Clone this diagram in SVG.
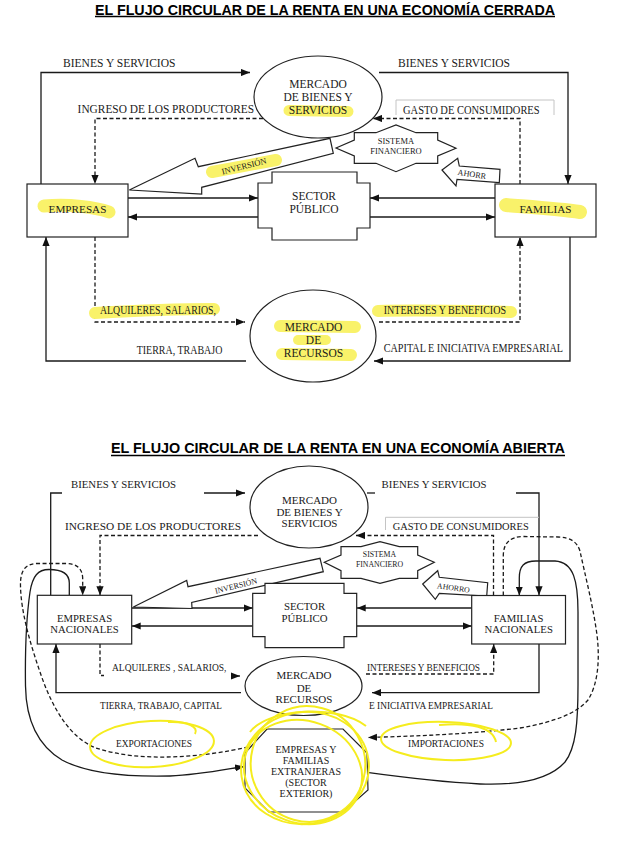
<svg xmlns="http://www.w3.org/2000/svg" width="636" height="848" viewBox="0 0 636 848">
<defs>
<marker id="ah" viewBox="0 0 10 8" refX="10" refY="4" markerWidth="9" markerHeight="7.5" markerUnits="userSpaceOnUse" orient="auto"><path d="M0,0 L10,4 L0,8 z" fill="#111"/></marker>
</defs>
<style>
text{font-family:"Liberation Serif","Times New Roman",serif;fill:#1a1a1a}
.ttl{font-family:"Liberation Sans",Arial,sans-serif;font-weight:bold;font-size:14px;fill:#000}
.c{text-anchor:middle}
.ln{fill:none;stroke:#1a1a1a;stroke-width:1.3}
.ds{stroke-dasharray:4 2.5}
.ar{marker-end:url(#ah)}
.sh{fill:#fff;stroke:#222;stroke-width:1.2}
.hl{fill:none;stroke:#f9f26a;stroke-linecap:round;stroke-linejoin:round}
.yc{fill:none;stroke:#f5ec1e;stroke-width:2}
.gb{fill:none;stroke:#c4c4c4;stroke-width:1}
.ul{stroke:#000;stroke-width:1.4}
</style>
<rect width="636" height="848" fill="#fff"/>

<!-- ================= TOP DIAGRAM ================= -->
<g id="t-title">
<text class="ttl c" x="325" y="14.5" textLength="460" lengthAdjust="spacingAndGlyphs">EL FLUJO CIRCULAR DE LA RENTA EN UNA ECONOMÍA CERRADA</text>
<line class="ul" x1="95" y1="16.5" x2="555" y2="16.5"/>
</g>

<g id="t-connectors">
<path class="ln ar" d="M41,184 V72.5 H250"/>
<path class="ln ar" d="M379,72.5 H568 V184"/>
<path class="ln ds ar" d="M263,118.5 H95 V184"/>
<path class="ln ds ar" d="M520,184 V118.5 H373"/>
<path class="ln ar" d="M128,198 H258"/>
<path class="ln ar" d="M258,217 H128"/>
<path class="ln ar" d="M495,198 H370"/>
<path class="ln ar" d="M370,217 H495"/>
<path class="ln ds ar" d="M95,237 V322 H245"/>
<path class="ln ds ar" d="M379,322 H520 V237"/>
<path class="ln ar" d="M246,361 H46 V237"/>
<path class="ln ar" d="M570,237 V361 H374"/>
<path class="gb" d="M396,115 V100 H554 V115"/>
</g>

<g id="t-labels">
<text x="63" y="67" font-size="11.5" textLength="112.5" lengthAdjust="spacingAndGlyphs">BIENES Y SERVICIOS</text>
<text x="398" y="67" font-size="11.5" textLength="112" lengthAdjust="spacingAndGlyphs">BIENES Y SERVICIOS</text>
<text x="77.6" y="113" font-size="11.5" textLength="176.4" lengthAdjust="spacingAndGlyphs">INGRESO DE LOS PRODUCTORES</text>
<text x="403" y="113.5" font-size="11.5" textLength="136.6" lengthAdjust="spacingAndGlyphs">GASTO DE CONSUMIDORES</text>
<path class="hl" stroke-width="12" d="M95,313 C130,311 180,309 214,309"/>
<text x="100" y="314" font-size="11.5" textLength="116" lengthAdjust="spacingAndGlyphs">ALQUILERES, SALARIOS,</text>
<path class="hl" stroke-width="12" d="M378,311 C420,310 470,311 511,312"/>
<text x="383.7" y="314" font-size="11.5" textLength="122.3" lengthAdjust="spacingAndGlyphs">INTERESES Y BENEFICIOS</text>
<text x="136.7" y="354" font-size="11.5" textLength="85.7" lengthAdjust="spacingAndGlyphs">TIERRA, TRABAJO</text>
<text x="383.7" y="352" font-size="11.5" textLength="179.3" lengthAdjust="spacingAndGlyphs">CAPITAL E INICIATIVA EMPRESARIAL</text>
</g>

<g id="t-mercado-bienes">
<ellipse class="sh" cx="318" cy="97" rx="64" ry="41"/>
<path class="hl" stroke-width="11" d="M289,110.5 L348,111.5"/>
<text class="c" x="318" y="87.5" font-size="11.5">MERCADO</text>
<text class="c" x="318" y="101" font-size="11.5">DE BIENES Y</text>
<text class="c" x="318" y="114" font-size="11.5">SERVICIOS</text>
</g>

<g id="t-inversion">
<polygon class="sh" points="129.3,190 195,158.3 198.3,166.7 330,138.3 333.3,153.3 201.7,187.3 201.7,194"/>
<path class="hl" stroke-width="12" d="M212,172 L276,160"/>
<text class="c" x="244" y="169" font-size="8.5" transform="rotate(-14 244 166)">INVERSIÓN</text>
</g>

<g id="t-sistema">
<polygon class="sh" points="336,148 354.3,140 354.3,132.7 376,132.7 396,125 416,132.7 437.7,132.7 437.7,140 456,148.3 437.7,156 437.7,163.3 416,163.3 396,171.7 376,163.3 354.3,163.3 354.3,156"/>
<text class="c" x="396" y="144" font-size="8.5">SISTEMA</text>
<text class="c" x="396" y="153.5" font-size="8.5">FINANCIERO</text>
</g>

<g id="t-ahorro">
<polygon class="sh" points="442,170 457.7,158.3 459.3,166 500,169.3 499.3,182.7 457,179.3 456,186"/>
<text class="c" x="472" y="177" font-size="8.2" transform="rotate(9 472 174)">AHORR</text>
</g>

<g id="t-empresas">
<rect class="sh" x="27" y="184" width="101" height="53"/>
<path class="hl" stroke-width="13" d="M44,206 C70,204 95,207 109,212"/>
<text class="c" x="77.5" y="213" font-size="11.2">EMPRESAS</text>
</g>

<g id="t-familias">
<rect class="sh" x="495" y="184" width="101" height="53"/>
<path class="hl" stroke-width="14" d="M506,205 C530,207 560,209 580,212"/>
<text class="c" x="545.5" y="213" font-size="11.2">FAMILIAS</text>
</g>

<g id="t-sector">
<path class="sh" d="M272,172 H357 V183 H370 V228 H357 V240 H272 V228 H258 V183 H272 Z"/>
<text class="c" x="314" y="199.5" font-size="11.5">SECTOR</text>
<text class="c" x="314" y="212.5" font-size="11.5">PÚBLICO</text>
</g>

<g id="t-mercado-recursos">
<ellipse class="sh" cx="313" cy="336" rx="63" ry="46"/>
<path class="hl" stroke-width="12" d="M280,326 L355,327"/>
<path class="hl" stroke-width="10" d="M298,340 L326,340"/>
<path class="hl" stroke-width="12" d="M282,354 L351,355"/>
<text class="c" x="313.5" y="331" font-size="11.5">MERCADO</text>
<text class="c" x="313.5" y="344" font-size="11.5">DE</text>
<text class="c" x="313.5" y="356.7" font-size="11.5">RECURSOS</text>
</g>

<!-- ================= BOTTOM DIAGRAM ================= -->
<g id="b-title">
<text class="ttl c" x="338" y="453" textLength="454" lengthAdjust="spacingAndGlyphs">EL FLUJO CIRCULAR DE LA RENTA EN UNA ECONOMÍA ABIERTA</text>
<line class="ul" x1="111" y1="455.5" x2="565" y2="455.5"/>
</g>

<g id="b-connectors">
<path class="ln" d="M50.7,595.3 V493 H62"/>
<path class="ln ar" d="M204,493 H245"/>
<path class="ln" d="M367,493 H375"/>
<path class="ln ar" d="M516,493 H539 V595.3"/>
<path class="ln ds ar" d="M258,535.5 H100 V595.3"/>
<path class="ln ds ar" d="M493.5,595.5 V535.5 H356"/>
<path class="ln ar" d="M131.7,608 H252.7"/>
<path class="ln ar" d="M252.7,626 H131.7"/>
<path class="ln ar" d="M471.7,608 H356.7"/>
<path class="ln ar" d="M356.7,626 H471.7"/>
<path class="ln ds" d="M100,644 V675.5 H104"/>
<path class="ln ar" d="M232,676 H240"/>
<path class="ln ds ar" d="M366,674 H493.7 V644"/>
<path class="ln ar" d="M241,692.7 H56 V644"/>
<path class="ln ar" d="M539,644 V692.7 H372"/>
<path class="ln ar" d="M69.3,595.3 L69.3,583 C69.3,573 61,569.5 49,569.5 C38,569.5 32.5,576 30,592 C26,620 25,652 25.5,686 C26,718 37,745 62,760 C86,773 128,777 170,776 C198,775 222,770 244,766.5"/>
<path class="ln ds ar" d="M248,747 C205,757 140,763 96,748 C70,738 52,708 40,672 C30,643 21,612 20.5,586 C20,570 26,563.5 37,563.5 L66,563.5 C76,563.5 82.7,568 82.7,579 L82.7,595.3"/>
<path class="ln ds ar" d="M503.3,595.5 L503.3,556 C503.3,543 510,536.5 524,536.5 L558,537 C571,537.5 577,542 580,551 C585,575 593,605 597,635 C600,660 598,684 588,700 C577,713 555,722 520,728 C470,734 420,736 368,737.5"/>
<path class="ln ar" d="M369,772.7 C400,777 440,782 480,784 C520,785.5 550,779 565,762 C576,748 578,722 578,685 L578,612 C578,582 574,562 555,561 L536,561 C524,561 519.3,566 519.3,578 L519.3,595.5"/>
<path class="gb" d="M385.5,530 V517.3 H539"/>
</g>

<g id="b-labels">
<text x="71" y="487.5" font-size="10.7" textLength="105" lengthAdjust="spacingAndGlyphs">BIENES Y SERVICIOS</text>
<text x="381.6" y="487.5" font-size="10.7" textLength="105" lengthAdjust="spacingAndGlyphs">BIENES Y SERVICIOS</text>
<text x="65" y="529.5" font-size="10.7" textLength="176" lengthAdjust="spacingAndGlyphs">INGRESO DE LOS PRODUCTORES</text>
<text x="392.7" y="530" font-size="10.7" textLength="136" lengthAdjust="spacingAndGlyphs">GASTO DE CONSUMIDORES</text>
<text x="112" y="670.7" font-size="10.7" textLength="114.5" lengthAdjust="spacingAndGlyphs">ALQUILERES  , SALARIOS,</text>
<text x="367" y="670.7" font-size="10.7" textLength="113" lengthAdjust="spacingAndGlyphs">INTERESES Y BENEFICIOS</text>
<text x="100" y="709" font-size="10.7" textLength="122" lengthAdjust="spacingAndGlyphs">TIERRA, TRABAJO, CAPITAL</text>
<text x="369" y="709" font-size="10.7" textLength="124" lengthAdjust="spacingAndGlyphs">E INICIATIVA EMPRESARIAL</text>
<text x="116" y="747.3" font-size="10" textLength="76" lengthAdjust="spacingAndGlyphs">EXPORTACIONES</text>
<text x="408" y="747.3" font-size="10" textLength="76" lengthAdjust="spacingAndGlyphs">IMPORTACIONES</text>
</g>

<g id="b-mercado-bienes">
<ellipse class="sh" cx="309" cy="507" rx="59" ry="41"/>
<text class="c" x="309.5" y="504" font-size="11">MERCADO</text>
<text class="c" x="309.5" y="515.7" font-size="11">DE BIENES Y</text>
<text class="c" x="309.5" y="527.3" font-size="11">SERVICIOS</text>
</g>

<g id="b-inversion">
<polygon class="sh" points="133.3,607 186.7,580.5 188,586.7 320,558.3 323.3,571.7 191.7,602.5 192,608.5"/>
<text class="c" x="236" y="588.5" font-size="8" transform="rotate(-14 236 586)">INVERSIÓN</text>
</g>

<g id="b-sistema">
<polygon class="sh" points="324.3,562.3 341,555 341,546.7 361,546.7 380,541.7 399.3,546.7 417.7,546.7 417.7,555 434.3,562.3 417.7,570.7 417.7,578.3 399.3,578.3 380,583.3 361,578.3 341,578.3 341,570.7"/>
<text class="c" x="379.5" y="557.3" font-size="7.8">SISTEMA</text>
<text class="c" x="379.5" y="566.7" font-size="7.8">FINANCIERO</text>
</g>

<g id="b-ahorro">
<polygon class="sh" points="422.7,584 437.7,570.7 439.3,577.3 487.7,582.7 486.7,596 439.3,593.3 435.3,599.3"/>
<text class="c" x="453.5" y="590.5" font-size="7.8" transform="rotate(8 453.5 588)">AHORRO</text>
</g>

<g id="b-empresas">
<rect class="sh" x="37.3" y="595.3" width="94.4" height="48.7"/>
<text class="c" x="84.5" y="621.7" font-size="10.7">EMPRESAS</text>
<text class="c" x="84.5" y="633.3" font-size="10.7">NACIONALES</text>
</g>

<g id="b-familias">
<rect class="sh" x="471.7" y="595.5" width="93.8" height="48.5"/>
<text class="c" x="518.7" y="621.7" font-size="10.7">FAMILIAS</text>
<text class="c" x="518.7" y="633.3" font-size="10.7">NACIONALES</text>
</g>

<g id="b-sector">
<path class="sh" d="M265,583.3 H344 V593.3 H356.7 V636.7 H344 V647.7 H265 V636.7 H252.7 V593.3 H265 Z"/>
<text class="c" x="304.5" y="609.5" font-size="10.8">SECTOR</text>
<text class="c" x="304.5" y="622" font-size="10.8">PÚBLICO</text>
</g>

<g id="b-mercado-recursos">
<ellipse class="sh" cx="303.5" cy="686" rx="58.5" ry="29.5"/>
<text class="c" x="304" y="679.3" font-size="11">MERCADO</text>
<text class="c" x="304" y="691.7" font-size="11">DE</text>
<text class="c" x="304" y="703.3" font-size="11">RECURSOS</text>
</g>

<g id="b-sector-exterior">
<polygon class="sh" points="267,729 343,729 367,753 368,790 343,812 269,812 245,788 245,753"/>
<text class="c" x="306" y="753.3" font-size="10">EMPRESAS Y</text>
<text class="c" x="306" y="764" font-size="10">FAMILIAS</text>
<text class="c" x="306" y="775" font-size="10">EXTRANJERAS</text>
<text class="c" x="306" y="785.7" font-size="10">(SECTOR</text>
<text class="c" x="306" y="796.7" font-size="10">EXTERIOR)</text>
</g>

<g id="b-scribbles">
<ellipse class="yc" cx="305" cy="768" rx="64" ry="56" transform="rotate(-8 305 768)"/>
<ellipse class="yc" cx="303" cy="772" rx="60" ry="51" transform="rotate(20 303 772)"/>
<ellipse class="yc" cx="308" cy="764" rx="57" ry="58" transform="rotate(-30 308 764)"/>
<path class="yc" d="M250,732 C268,708 338,704 366,726"/>
<ellipse class="yc" cx="152" cy="744" rx="62" ry="23" transform="rotate(-3 152 744)"/>
<path class="yc" d="M168,722 C188,721 199,727 195,734"/>
<ellipse class="yc" cx="446" cy="741" rx="65" ry="19" transform="rotate(2 446 741)"/>
<path class="yc" d="M439,725 C470,722 493,727 496,742"/>
</g>
</svg>
